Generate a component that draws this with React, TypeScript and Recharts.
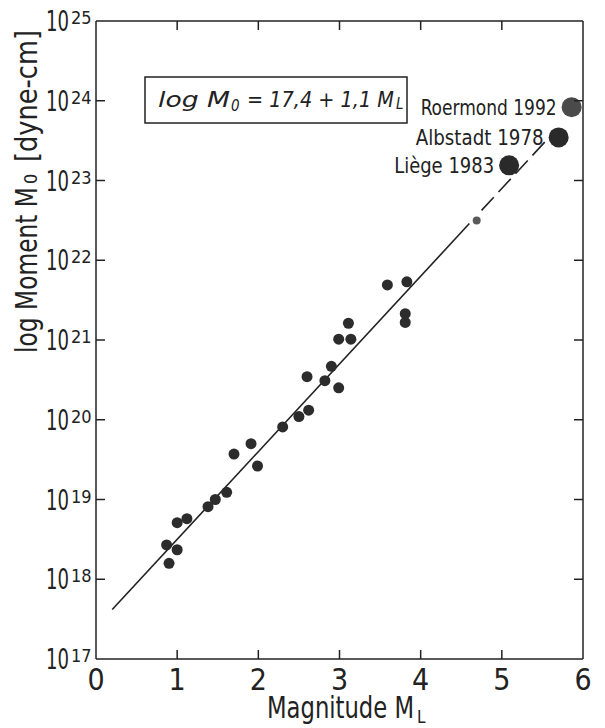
import React from 'react';
import { ScatterChart, Scatter, XAxis, YAxis, ReferenceLine } from 'recharts';

// magnitude M_L and log10 of seismic moment
const magnitudes = [
  0.9, 0.87, 1.0, 1.0, 1.12, 1.38, 1.47, 1.61, 1.7, 1.99, 1.91, 2.3, 2.5, 2.62, 2.6,
  2.82, 2.99, 2.9, 2.99, 3.14, 3.11, 3.59, 3.83, 3.81, 3.81,
];
const logMoments = [
  18.2, 18.43, 18.37, 18.71, 18.76, 18.91, 19.0, 19.09, 19.57, 19.42, 19.7, 19.91, 20.04,
  20.12, 20.54, 20.49, 20.4, 20.67, 21.01, 21.01, 21.21, 21.69, 21.73, 21.33, 21.22,
];
const smallMagnitudes = [4.69];
const smallLogMoments = [22.5];

const eventNames = ['Liège 1983', 'Albstadt 1978', 'Roermond 1992'];
const eventMagnitudes = [5.09, 5.7, 5.86];
const eventLogMoments = [23.19, 23.54, 23.92];

const xTicks = [0, 1, 2, 3, 4, 5, 6];
const yExponents = [17, 18, 19, 20, 21, 22, 23, 24, 25];

// fit: log M0 = 17.4 + 1.1 M_L
const FIT_A = 17.4;
const FIT_B = 1.1;
const fitSolid = [0.2, 4.6];
const fitDashed = [4.75, 5.55];

const INK = '#222';
const FONT = "'Liberation Sans Narrow', 'DejaVu Sans Condensed', 'Roboto Condensed', sans-serif";

const points = magnitudes.map((m, i) => ({ x: m, y: Math.pow(10, logMoments[i]) }));
const smallPoints = smallMagnitudes.map((m, i) => ({ x: m, y: Math.pow(10, smallLogMoments[i]) }));
const events = eventNames.map((name, i) => ({
  name,
  x: eventMagnitudes[i],
  y: Math.pow(10, eventLogMoments[i]),
}));
const yTicks = yExponents.map(e => Math.pow(10, e));
const fitPoint = (m: number) => ({ x: m, y: Math.pow(10, FIT_A + FIT_B * m) });

const labelWidths: Record<string, number> = {
  'Liège 1983': 100,
  'Albstadt 1978': 128,
  'Roermond 1992': 136,
};

const BottomTick = ({ x, y, payload }: any) => (
  <g>
    {payload.value > 0 && payload.value < 6 && (
      <line x1={x} x2={x} y1={y} y2={y - 9} stroke={INK} strokeWidth={1.5} />
    )}
    <text x={x} y={y + 31} textAnchor="middle" fontSize={30} fontFamily={FONT} fill={INK}>
      {payload.value}
    </text>
  </g>
);

const TopTick = ({ x, y, payload }: any) =>
  payload.value > 0 && payload.value < 6 ? (
    <line x1={x} x2={x} y1={y} y2={y + 9} stroke={INK} strokeWidth={1.5} />
  ) : (
    <g />
  );

const LeftTick = ({ x, y, payload }: any) => {
  const exp = Math.round(Math.log10(payload.value));
  return (
    <g>
      {exp > 17 && exp < 25 && <line x1={x} x2={x + 9} y1={y} y2={y} stroke={INK} strokeWidth={1.5} />}
      <text
        x={x - 50}
        y={y + 10}
        fontSize={29}
        fontFamily={FONT}
        fill={INK}
        textLength={23}
        lengthAdjust="spacingAndGlyphs"
      >
        10
      </text>
      <text x={x - 25} y={y + 3} fontSize={18} fontFamily={FONT} fill={INK}>
        {exp}
      </text>
    </g>
  );
};

const RightTick = ({ x, y, payload }: any) => {
  const exp = Math.round(Math.log10(payload.value));
  return exp > 17 && exp < 25 ? (
    <line x1={x} x2={x - 9} y1={y} y2={y} stroke={INK} strokeWidth={1.5} />
  ) : (
    <g />
  );
};

const EventDot = (props: any) => {
  const { cx, cy, payload } = props;
  const grey = payload.name.startsWith('Roermond');
  return (
    <g>
      <circle cx={cx} cy={cy} r={10} fill={grey ? '#4a4a4a' : '#2a2a2a'} />
      <text
        x={cx - 15 - labelWidths[payload.name]}
        y={cy + 8}
        fontSize={22}
        fontFamily={FONT}
        fill={INK}
        textLength={labelWidths[payload.name]}
        lengthAdjust="spacingAndGlyphs"
      >
        {payload.name}
      </text>
    </g>
  );
};

const App: React.FC = () => {
  return (
    <div style={{ position: 'absolute', left: 0, top: 0, width: 605, height: 728, background: '#fff' }}>
      <ScatterChart width={605} height={728} margin={{ top: 20, right: 21, left: 0, bottom: 0 }}>
        <XAxis
          xAxisId={0}
          type="number"
          dataKey="x"
          domain={[0, 6]}
          ticks={xTicks}
          interval={0}
          height={69}
          tickSize={0}
          tickMargin={0}
          tickLine={false}
          tick={<BottomTick />}
          axisLine={{ stroke: INK, strokeWidth: 1.5 }}
        />
        <XAxis
          xAxisId="top"
          orientation="top"
          type="number"
          dataKey="x"
          domain={[0, 6]}
          ticks={xTicks}
          interval={0}
          height={1}
          tickSize={0}
          tickMargin={0}
          tickLine={false}
          tick={<TopTick />}
          axisLine={{ stroke: INK, strokeWidth: 1.5 }}
        />
        <YAxis
          yAxisId={0}
          type="number"
          dataKey="y"
          scale="log"
          domain={[1e17, 1e25]}
          ticks={yTicks}
          interval={0}
          width={96}
          tickSize={0}
          tickMargin={0}
          tickLine={false}
          tick={<LeftTick />}
          axisLine={{ stroke: INK, strokeWidth: 1.5 }}
          allowDataOverflow
        />
        <YAxis
          yAxisId="right"
          orientation="right"
          type="number"
          dataKey="y"
          scale="log"
          domain={[1e17, 1e25]}
          ticks={yTicks}
          interval={0}
          width={1}
          tickSize={0}
          tickMargin={0}
          tickLine={false}
          tick={<RightTick />}
          axisLine={{ stroke: INK, strokeWidth: 1.5 }}
          allowDataOverflow
        />
        <ReferenceLine
          segment={[fitPoint(fitSolid[0]), fitPoint(fitSolid[1])]}
          stroke={INK}
          strokeWidth={1.6}
          ifOverflow="visible"
        />
        <ReferenceLine
          segment={[fitPoint(fitDashed[0]), fitPoint(fitDashed[1])]}
          stroke={INK}
          strokeWidth={1.6}
          strokeDasharray="18 7"
          ifOverflow="visible"
        />
        <Scatter
          data={points}
          isAnimationActive={false}
          shape={(p: any) => <circle cx={p.cx} cy={p.cy} r={5.5} fill="#2c2c2c" />}
        />
        <Scatter
          data={smallPoints}
          isAnimationActive={false}
          shape={(p: any) => <circle cx={p.cx} cy={p.cy} r={4} fill="#5a5a5a" />}
        />
        <Scatter data={events} isAnimationActive={false} shape={<EventDot />} />
        {/* invisible series that binds the top and right frame axes */}
        <Scatter
          data={events}
          xAxisId="top"
          yAxisId="right"
          isAnimationActive={false}
          shape={() => <g />}
        />
      </ScatterChart>

      <svg
        width={605}
        height={728}
        style={{ position: 'absolute', left: 0, top: 0, pointerEvents: 'none' }}
      >
        {/* y axis title */}
        <g transform="translate(37,353) rotate(-90)" fontFamily={FONT} fill={INK}>
          <text x={0} y={0} fontSize={30} textLength={166} lengthAdjust="spacingAndGlyphs">
            log Moment M
          </text>
          <text x={169} y={0} fontSize={18}>0</text>
          <text x={191} y={0} fontSize={30} textLength={132} lengthAdjust="spacingAndGlyphs">
            [dyne-cm]
          </text>
        </g>

        {/* x axis title */}
        <g fontFamily={FONT} fill={INK}>
          <text x={267} y={718} fontSize={30} textLength={147} lengthAdjust="spacingAndGlyphs">
            Magnitude M
          </text>
          <text x={417} y={723} fontSize={17}>L</text>
        </g>

        {/* fit equation */}
        <rect x={145} y={77} width={262} height={46} fill="none" stroke={INK} strokeWidth={1.5} />
        <g fontFamily={FONT} fill={INK} fontStyle="italic">
          <text x={158} y={107} fontSize={22} textLength={72} lengthAdjust="spacingAndGlyphs">
            log M
          </text>
          <text x={231} y={111} fontSize={15}>0</text>
          <text x={247} y={107} fontSize={22} textLength={147} lengthAdjust="spacingAndGlyphs">
            = 17,4 + 1,1 M
          </text>
          <text x={396} y={109} fontSize={15}>L</text>
        </g>
      </svg>
    </div>
  );
};

export default App;
